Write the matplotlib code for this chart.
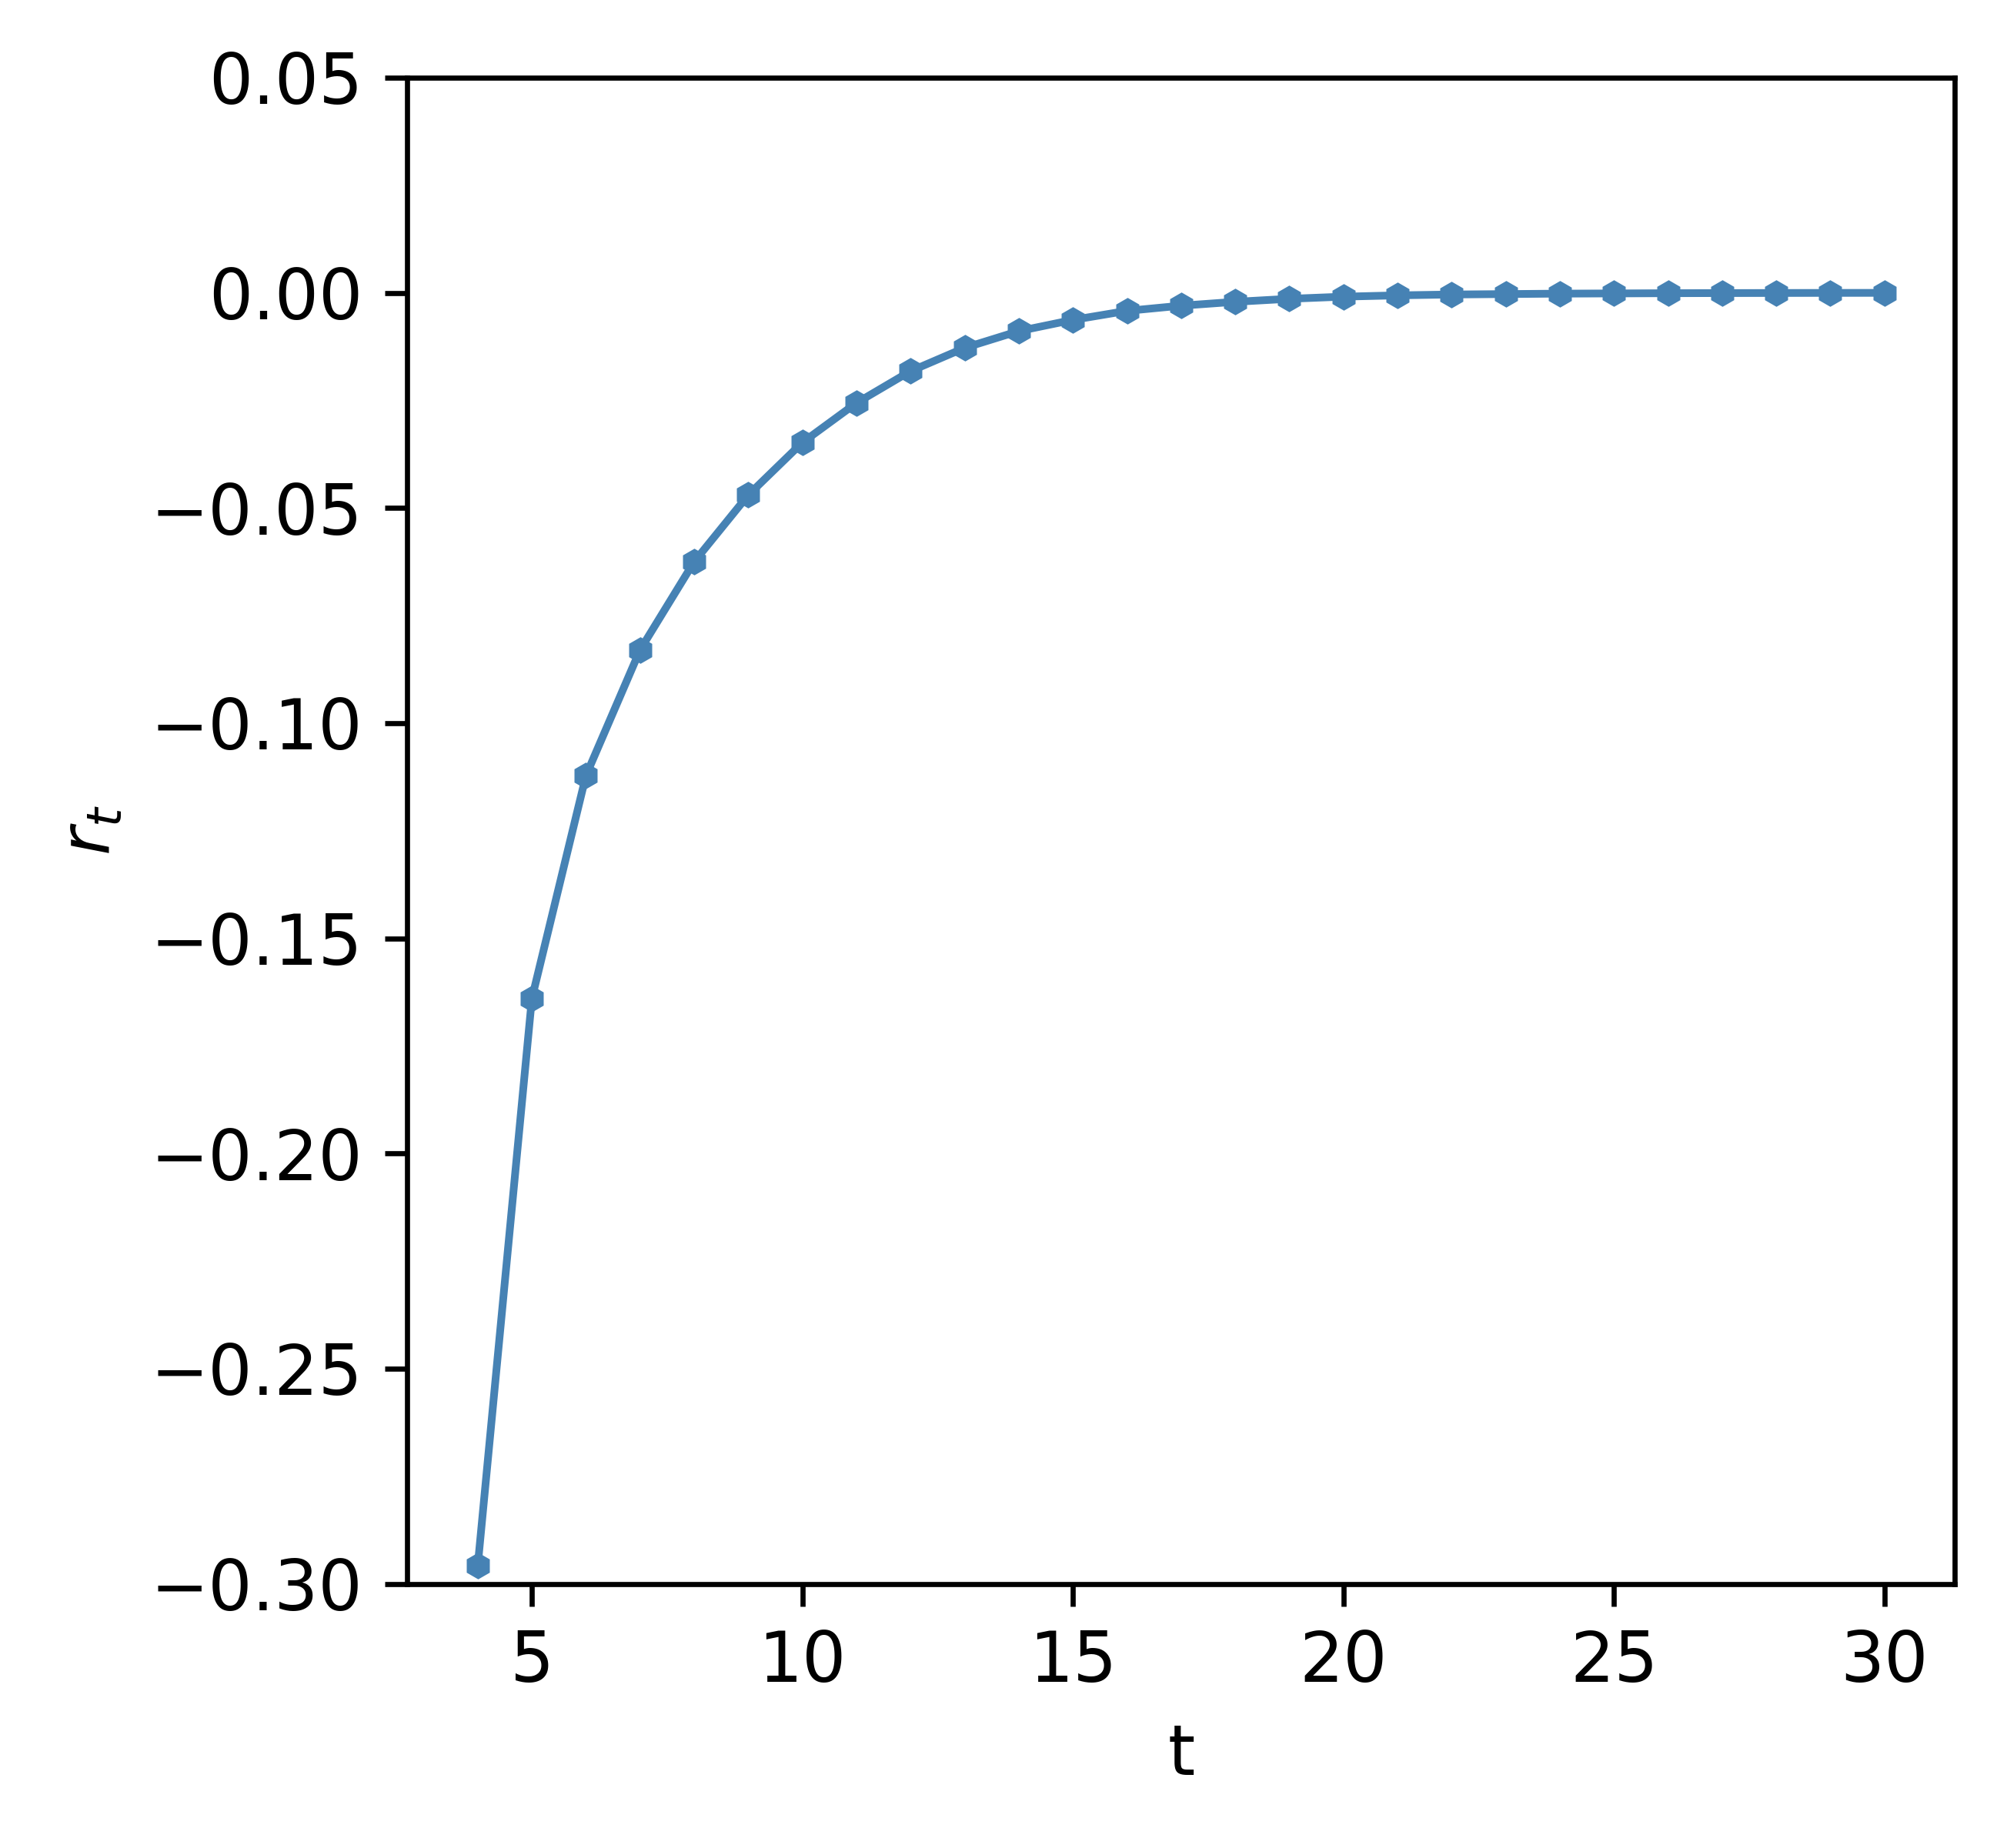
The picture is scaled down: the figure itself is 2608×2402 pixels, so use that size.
import numpy as np
import matplotlib
matplotlib.use("Agg")
import matplotlib.pyplot as plt

# values
t = np.arange(4, 31)
r_t = [-0.2958, -0.1640, -0.1122, -0.0830, -0.0625, -0.0470, -0.0348, -0.0256,
       -0.0182, -0.0128, -0.0089, -0.0063, -0.0042, -0.0030, -0.0021, -0.0014,
       -0.0009, -0.0006, -0.0004, -0.0003, -0.0002, -0.00015, -0.0001, -0.00007,
       -0.00005, -0.00003, -0.00002]

plt.rcParams['font.size'] = 10.8

fig, ax = plt.subplots(figsize=(2608 / 600, 2402 / 600), dpi=600)
fig.subplots_adjust(left=0.203, right=0.974, top=0.958, bottom=0.143)

ax.plot(t, r_t, color="steelblue", marker="h", markersize=3, linewidth=1.2)
ax.set_ylim(-0.30, 0.05)
ax.set_xlabel("t")
ax.set_ylabel("$r_t$")

fig.savefig("out.png", dpi=600)
